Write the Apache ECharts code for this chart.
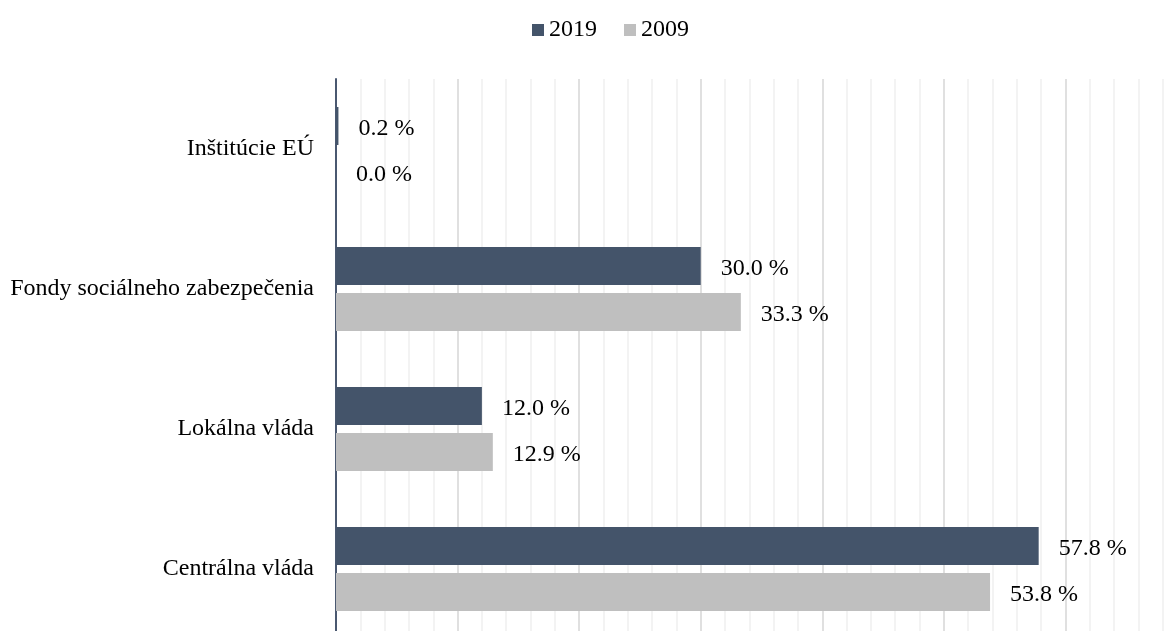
<!DOCTYPE html>
<html>
<head>
<meta charset="utf-8">
<script src="https://cdn.jsdelivr.net/npm/echarts@6/dist/echarts.min.js"></script>
<style>
html, body { margin: 0; padding: 0; background: #fff; }
#chart { width: 1176px; height: 631px; }
</style>
</head>
<body>
<div id="chart"></div>
<script>
// categories listed top to bottom
var categories = ['Inštitúcie EÚ', 'Fondy sociálneho zabezpečenia', 'Lokálna vláda', 'Centrálna vláda']
var values2019 = [0.2, 30.0, 12.0, 57.8]
var values2009 = [0.0, 33.3, 12.9, 53.8]
var seriesNames = ['2019', '2009']

var font = "'Liberation Serif', 'Times New Roman', serif"
var chart = echarts.init(document.getElementById('chart'))

function labelOpt() {
  return {
    show: true,
    position: 'right',
    distance: 20,
    offset: [0, 3],
    fontFamily: font,
    fontSize: 24,
    color: '#000',
    formatter: function (p) { return p.value.toFixed(1) + ' %' }
  }
}

var option = {
  animation: false,
  legend: {
    data: seriesNames,
    left: 532,
    top: 18,
    padding: 0,
    itemWidth: 12,
    itemHeight: 12,
    itemGap: 27,
    icon: 'rect',
    textStyle: { fontFamily: font, fontSize: 24, color: '#000' }
  },
  grid: {
    left: 336,
    top: 79,
    width: 851,
    height: 560,
    outerBoundsMode: 'none',
    containLabel: false
  },
  xAxis: {
    type: 'value',
    min: 0,
    max: 70,
    interval: 10,
    axisLine: { show: false },
    axisTick: { show: false },
    axisLabel: { show: false },
    splitLine: { show: true, lineStyle: { color: '#d6d6d6', width: 1.5 } },
    minorTick: { show: false, splitNumber: 5 },
    minorSplitLine: { show: true, lineStyle: { color: '#f0f0f0', width: 1.5 } }
  },
  yAxis: {
    type: 'category',
    inverse: true,
    data: categories,
    axisLine: { show: true, lineStyle: { color: '#4a5870', width: 2 } },
    axisTick: { show: false },
    axisLabel: { fontFamily: font, fontSize: 24, color: '#000', margin: 22, padding: [6, 0, 0, 0] }
  },
  series: [
    {
      name: seriesNames[0],
      type: 'bar',
      data: values2019,
      barGap: '21%',
      barCategoryGap: '40%',
      itemStyle: { color: '#44546a' },
      label: labelOpt()
    },
    {
      name: seriesNames[1],
      type: 'bar',
      data: values2009,
      barGap: '21%',
      barCategoryGap: '40%',
      itemStyle: { color: '#bfbfbf' },
      label: labelOpt()
    }
  ]
}
option && chart.setOption(option)
</script>
</body>
</html>
